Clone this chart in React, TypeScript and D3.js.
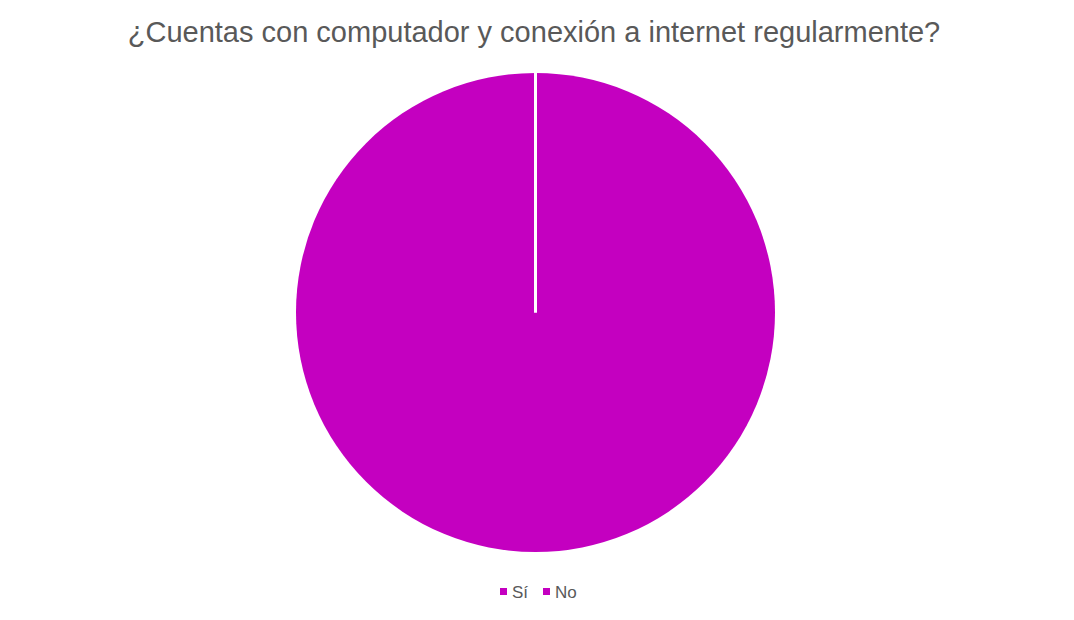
import React from "react";
import * as d3 from "d3";

const title = "¿Cuentas con computador y conexión a internet regularmente?";
const categories = ["Sí", "No"];
const values = [100, 0];
const colors = ["#C400C0", "#C400C0"];

export default function App() {
  const width = 1074;
  const height = 620;
  const cx = 535.5;
  const cy = 312.5;
  const r = 239.5;

  const pie = d3.pie<number>().sort(null).value((d) => d);
  const arcs = pie(values);
  const arcGen = d3.arc<d3.PieArcDatum<number>>().innerRadius(0).outerRadius(r);

  const legendX = [500, 543];

  return (
    <svg
      width={width}
      height={height}
      style={{ position: "absolute", left: 0, top: 0, background: "#fff" }}
      fontFamily="'Liberation Sans', Arial, sans-serif"
    >
      <text x={534} y={41.5} textAnchor="middle" fontSize={29} fill="#595959">
        {title}
      </text>
      <g transform={`translate(${cx},${cy})`}>
        {arcs.map((a, i) => (
          <path key={i} d={arcGen(a) || ""} fill={colors[i]} />
        ))}
        {arcs.map((a, i) => {
          const ang = a.startAngle;
          return (
            <line
              key={"b" + i}
              x1={0}
              y1={0}
              x2={Math.sin(ang) * r}
              y2={-Math.cos(ang) * r}
              stroke="#fff"
              strokeWidth={3}
            />
          );
        })}
      </g>
      <g>
        {categories.map((c, i) => (
          <g key={c} transform={`translate(${legendX[i]},0)`}>
            <rect x={0} y={588} width={7} height={7} fill={colors[i]} />
            <text x={12} y={598} fontSize={17} fill="#595959">
              {c}
            </text>
          </g>
        ))}
      </g>
    </svg>
  );
}
